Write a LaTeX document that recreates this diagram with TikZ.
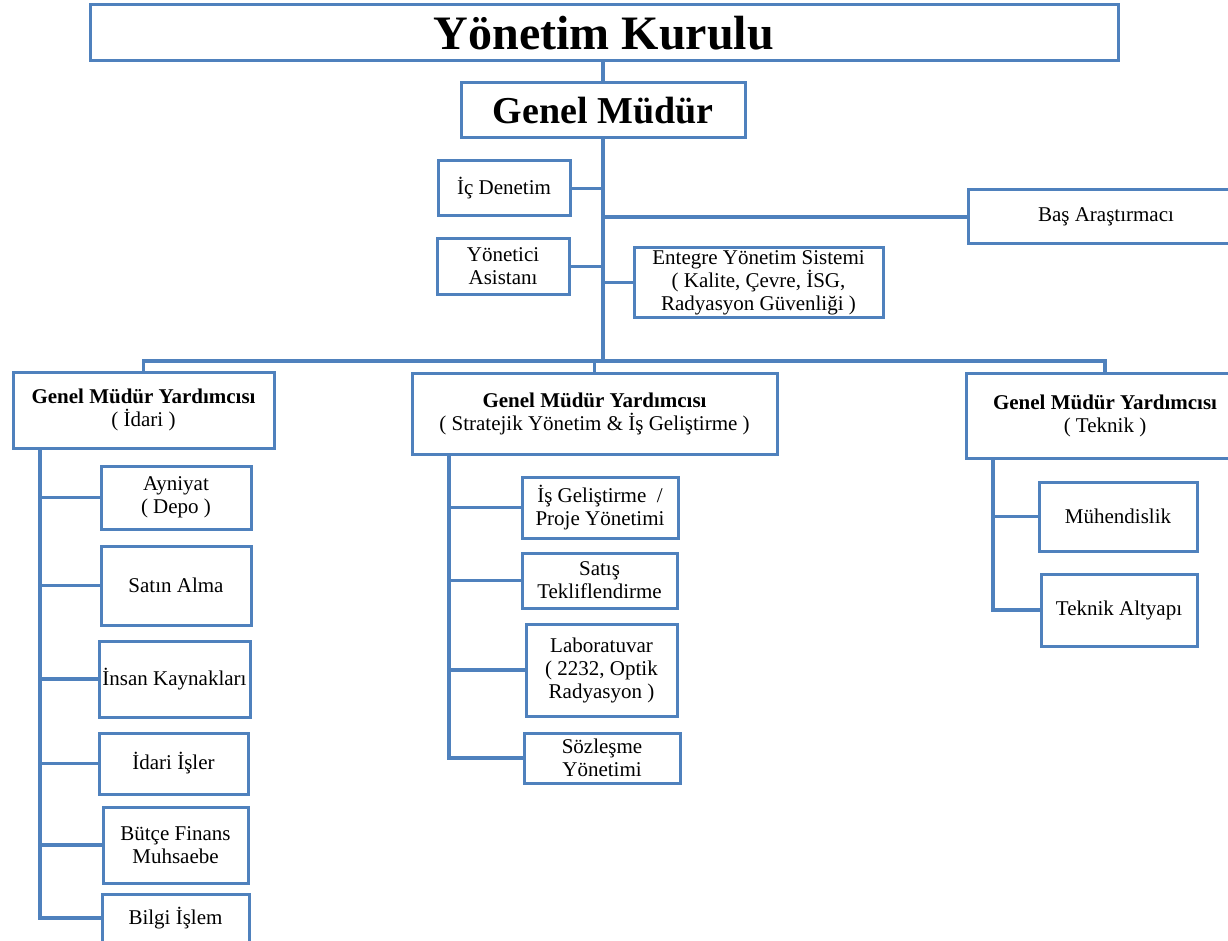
\documentclass[tikz,border=0pt]{standalone}
\usepackage{fontspec}
\setmainfont{Liberation Serif}
\definecolor{orgblue}{RGB}{79,129,189}
\begin{document}
\begin{tikzpicture}[x=1pt,y=-1pt]
		\tikzstyle{unit}=[draw=orgblue,line width=3pt,fill=white,outer sep=0pt,inner sep=2pt,align=center,anchor=north west,font=\fontsize{21}{23}\selectfont]
		\tikzstyle{link}=[draw=orgblue,line width=3.2pt]
		\useasboundingbox (0,0) rectangle (1228,941);

		% top of the chart
		\node[unit,minimum width=1028pt,minimum height=56pt,font=\fontsize{48}{50}\selectfont\bfseries] (yk) at (90,5) {Yönetim Kurulu};
		\node[unit,minimum width=284pt,minimum height=55pt,font=\fontsize{38}{40}\selectfont\bfseries] (gm) at (461,83) {Genel Müdür};
		\foreach \x / \y / \w / \h / \n / \t in {438/161/132/55/ic/{İç Denetim},437/239/132/55/ya/{Yönetici\\Asistanı},634/248/249/69/eys/{Entegre Yönetim Sistemi\\( Kalite, Çevre, İSG,\\Radyasyon Güvenliği )},968/190/276/54/bas/{Baş Araştırmacı}} { \node[unit,minimum width=\w pt,minimum height=\h pt] (\n) at (\x,\y) {\t};}

		\coordinate (bus) at (603,361);
		\draw[link] (gm.north |- yk.south) -- (gm.north);
		\draw[link] (gm.south) -- (gm.south |- bus);
		\foreach \n in {ic,ya} { \draw[link] (\n.east) -- (\n.east -| gm.south);}
		\foreach \n in {eys,bas} { \draw[link] (\n.west) -- (\n.west -| gm.south);}

		% assistant general managers
		\node[unit,minimum width=261pt,minimum height=76pt] (gmyA) at (13,372) {\textbf{Genel Müdür Yardımcısı}\\( İdari )};
		\node[unit,minimum width=365pt,minimum height=81pt] (gmyB) at (412,373) {\textbf{Genel Müdür Yardımcısı}\\( Stratejik Yönetim \& İş Geliştirme )};
		\node[unit,minimum width=278pt,minimum height=85pt] (gmyC) at (966,373) {\textbf{Genel Müdür Yardımcısı}\\( Teknik )};

		\draw[link] (gmyA.north) -- (gmyA.north |- bus) -- (gmyC.north |- bus) -- (gmyC.north);
		\draw[link] (gmyB.north) -- (gmyB.north |- bus);

		% departments
		\foreach \x / \y / \w / \h / \n / \t in {101/466/150/63/ay/{Ayniyat\\( Depo )},101/546/150/79/sa/{Satın Alma},99/641/151/76/ik/{İnsan Kaynakları},99/733/149/61/ii/{İdari İşler},103/807/145/76/bf/{Bütçe Finans\\Muhsaebe},102/894/147/48/bi/{Bilgi İşlem}} { \node[unit,minimum width=\w pt,minimum height=\h pt] (\n) at (\x,\y) {\t};}
		\foreach \x / \y / \w / \h / \n / \t in {522/477/156/61/ig/{İş Geliştirme \ /\\Proje Yönetimi},522/553/155/55/st/{Satış\\Tekliflendirme},526/624/151/92/lab/{Laboratuvar\\( 2232, Optik\\Radyasyon )},524/733/156/50/sz/{Sözleşme\\Yönetimi}} { \node[unit,minimum width=\w pt,minimum height=\h pt] (\n) at (\x,\y) {\t};}
		\foreach \x / \y / \w / \h / \n / \t in {1039/482/158/69/mh/{Mühendislik},1041/574/156/72/ta/{Teknik Altyapı}} { \node[unit,minimum width=\w pt,minimum height=\h pt] (\n) at (\x,\y) {\t};}

		\coordinate (spA) at (40,448);
		\coordinate (spB) at (449,454);
		\coordinate (spC) at (993,458);
		\draw[link] (spA) |- (bi.west);
		\draw[link] (spB) |- (sz.west);
		\draw[link] (spC) |- (ta.west);
		\foreach \n in {ay,sa,ik,ii,bf} { \draw[link] (spA |- \n.west) -- (\n.west);}
		\foreach \n in {ig,st,lab} { \draw[link] (spB |- \n.west) -- (\n.west);}
		\foreach \n in {mh} { \draw[link] (spC |- \n.west) -- (\n.west);}

	\end{tikzpicture}
\end{document}
